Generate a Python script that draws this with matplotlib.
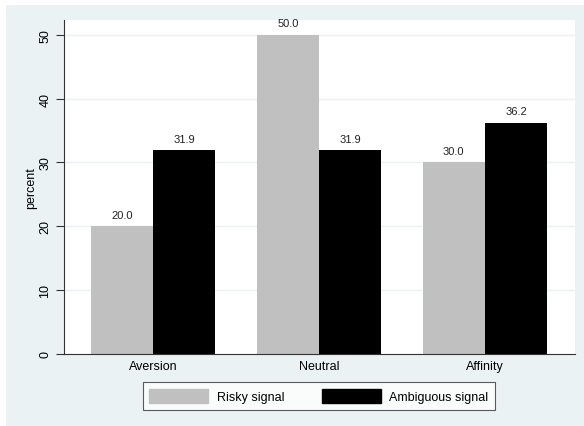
import matplotlib.pyplot as plt
import matplotlib.patches as mpatches
import numpy as np

plt.rcParams['font.family'] = ['Liberation Sans', 'DejaVu Sans']

categories = ['Aversion', 'Neutral', 'Affinity']
risky = [20.0, 50.0, 30.0]
ambiguous = [31.9, 31.9, 36.2]
series_labels = ['Risky signal', 'Ambiguous signal']
yticks = [0, 10, 20, 30, 40, 50]

bg = '#EAF2F3'
gray = '#C0C0C0'
W, H = 584, 427

fig = plt.figure(figsize=(W / 100, H / 100), dpi=100, facecolor='white')
# light blue graph region (white strip at top and left)
fig.patches.append(mpatches.Rectangle((6 / W, -0.01), 1.1, 1.01 - 6 / H, transform=fig.transFigure,
                                      facecolor=bg, edgecolor='none', zorder=-10))

ax = fig.add_axes([64 / W, 1 - 355 / H, (575 - 64) / W, (355 - 21) / H])
ax.set_facecolor('white')

x = np.arange(len(categories))
bw = 0.376
b1 = ax.bar(x - bw / 2, risky, width=bw, color=gray, zorder=2)
b2 = ax.bar(x + bw / 2, ambiguous, width=bw, color='black', zorder=2)

for bars, vals in [(b1, risky), (b2, ambiguous)]:
    for b, v in zip(bars, vals):
        ax.text(b.get_x() + b.get_width() / 2, v + 1.0, f"{v:.1f}",
                ha='center', va='bottom', fontsize=8, color='#222222')

ax.set_xlim(-0.536, 2.542)
ax.set_ylim(0, 52.3)
ax.set_yticks(yticks)
ax.set_yticklabels([str(t) for t in yticks], rotation=90, va='center', fontsize=9)
ax.set_xticks(x)
ax.set_xticklabels(categories, fontsize=9)
ax.tick_params(axis='x', length=0, pad=4)
ax.tick_params(axis='y', length=6, width=0.8, color='#333333', pad=3)
ax.set_ylabel('percent', fontsize=9, labelpad=2)

ax.grid(axis='y', color=bg, linewidth=1.0, zorder=0)
ax.set_axisbelow(True)
for s in ['top', 'right']:
    ax.spines[s].set_visible(False)
for s in ['left', 'bottom']:
    ax.spines[s].set_color('#333333')
    ax.spines[s].set_linewidth(0.8)

handles = [mpatches.Rectangle((0, 0), 1, 1, color=gray),
           mpatches.Rectangle((0, 0), 1, 1, color='black')]
leg = fig.legend(handles, series_labels, loc='center',
                 bbox_to_anchor=(319 / W, 1 - 397 / H), ncol=2, fontsize=9,
                 frameon=True, fancybox=False, handlelength=4.7, handleheight=1.3,
                 columnspacing=3.0, handletextpad=0.7, borderpad=0.55, borderaxespad=0)
leg.get_frame().set_edgecolor('#333333')
leg.get_frame().set_linewidth(0.8)

fig.savefig('out.png', dpi=100, facecolor=fig.get_facecolor())
